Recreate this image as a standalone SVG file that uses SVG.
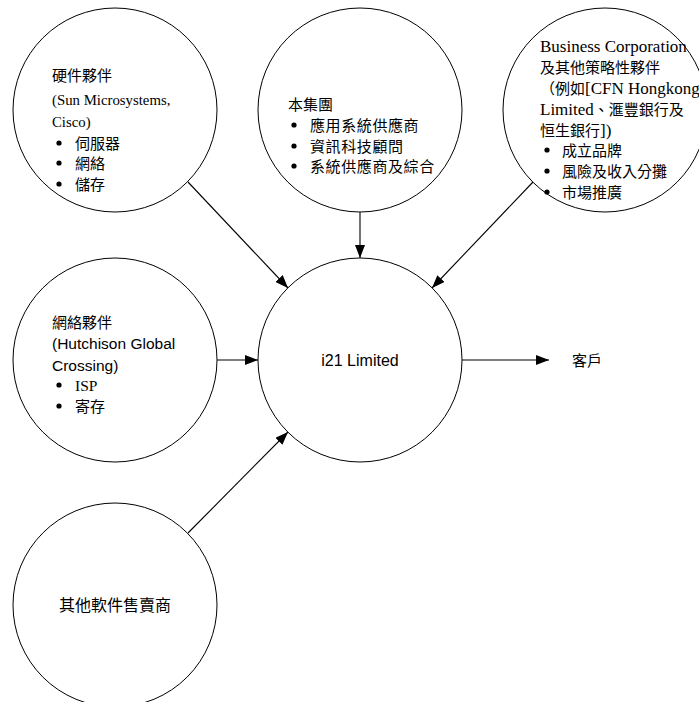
<svg xmlns="http://www.w3.org/2000/svg" width="699" height="702" viewBox="0 0 699 702">
<style>
.node{fill:#fff;stroke:#000;stroke-width:1}
.cjk{font-family:"Liberation Serif","Noto Sans CJK TC",serif;font-size:15px;fill:#000}
.ser{font-family:"Liberation Serif","Noto Sans CJK TC",serif;font-size:14.8px;fill:#000}
.big{font-size:17px}
.sp{letter-spacing:0.6px}
.san{font-family:"Liberation Sans","Noto Sans CJK TC",sans-serif;font-size:15.5px;fill:#000}
.bul{fill:#000}
.edge{stroke:#000;stroke-width:1.1;fill:none;marker-end:url(#arr)}
</style>
<defs>
<marker id="arr" markerUnits="userSpaceOnUse" markerWidth="14" markerHeight="11" refX="13" refY="5" orient="auto">
<path d="M0,0 L13,5 L0,10 z" fill="#000"/>
</marker>
</defs>
<rect width="699" height="702" fill="#fff"/>
<g id="connectors">
<line class="edge" x1="188" y1="182" x2="288" y2="288"/>
<line class="edge" x1="360" y1="212" x2="360" y2="258"/>
<line class="edge" x1="533" y1="182" x2="432" y2="288"/>
<line class="edge" x1="217" y1="360" x2="258" y2="360"/>
<line class="edge" x1="188" y1="533" x2="288" y2="432"/>
<line class="edge" x1="462" y1="360" x2="549" y2="360"/>
</g>
<g id="hardware">
<circle class="node" cx="115" cy="110" r="102"/>
<text class="cjk" x="52" y="81">硬件夥伴</text>
<text class="ser" x="52" y="105">(Sun Microsystems,</text>
<text class="ser" x="52" y="127">Cisco)</text>
<circle class="bul" cx="59" cy="143" r="2.6"/><text class="cjk" x="75" y="149">伺服器</text>
<circle class="bul" cx="59" cy="163" r="2.6"/><text class="cjk" x="75" y="169">網絡</text>
<circle class="bul" cx="59" cy="184" r="2.6"/><text class="cjk" x="75" y="190">儲存</text>
</g>
<g id="group">
<circle class="node" cx="360" cy="110" r="102"/>
<text class="cjk" x="288" y="110">本集團</text>
<circle class="bul" cx="294" cy="125" r="2.6"/><text class="cjk sp" x="310" y="131">應用系統供應商</text>
<circle class="bul" cx="294" cy="146" r="2.6"/><text class="cjk sp" x="310" y="152">資訊科技顧問</text>
<circle class="bul" cx="294" cy="166" r="2.6"/><text class="cjk sp" x="310" y="172">系統供應商及綜合</text>
</g>
<g id="business">
<circle class="node" cx="605" cy="110" r="102"/>
<text class="ser big" x="540" y="52">Business Corporation</text>
<text class="cjk" x="540" y="73">及其他策略性夥伴</text>
<text class="cjk" x="540" y="94">（例如<tspan class="big">[CFN Hongkong</tspan></text>
<text class="cjk" x="540" y="115"><tspan class="big">Limited</tspan>、滙豐銀行及</text>
<text class="cjk" x="540" y="136">恒生銀行<tspan class="big">])</tspan></text>
<circle class="bul" cx="547" cy="150" r="2.6"/><text class="cjk" x="562" y="156">成立品牌</text>
<circle class="bul" cx="547" cy="171" r="2.6"/><text class="cjk" x="562" y="177">風險及收入分攤</text>
<circle class="bul" cx="547" cy="192" r="2.6"/><text class="cjk" x="562" y="198">市場推廣</text>
</g>
<g id="network">
<circle class="node" cx="115" cy="360" r="102"/>
<text class="cjk" x="52" y="328">網絡夥伴</text>
<text class="san" x="52" y="349">(Hutchison Global</text>
<text class="san" x="52" y="371">Crossing)</text>
<circle class="bul" cx="59" cy="385" r="2.6"/><text class="ser" x="75" y="391" style="font-size:15.5px">ISP</text>
<circle class="bul" cx="59" cy="406" r="2.6"/><text class="cjk" x="75" y="412">寄存</text>
</g>
<g id="i21">
<circle class="node" cx="360" cy="360" r="102"/>
<text class="san" x="360" y="366" text-anchor="middle" style="font-size:16px">i21 Limited</text>
</g>
<g id="software">
<circle class="node" cx="115" cy="605" r="102"/>
<text class="cjk" x="115" y="611" text-anchor="middle" style="font-size:16px">其他軟件售賣商</text>
</g>
<g id="customer">
<text class="cjk" x="572" y="366">客戶</text>
</g>
</svg>
